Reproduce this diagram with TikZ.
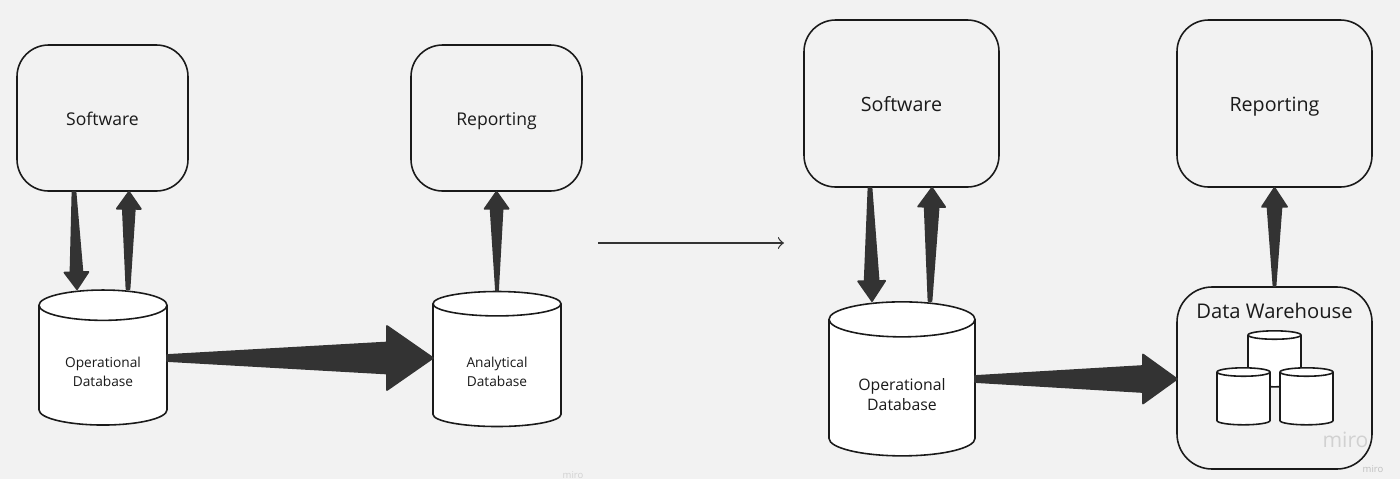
\documentclass[tikz,border=0pt]{standalone}
\usepackage{fontspec}
\setmainfont{Open Sans}
\usetikzlibrary{calc,shapes.geometric}
\definecolor{pagegray}{HTML}{F2F2F2}
\definecolor{arrowgray}{HTML}{333333}
\definecolor{inkblack}{HTML}{1A1A1A}
\tikzset{
    boxnode/.style={draw=inkblack, line width=0.45pt, rounded corners=9pt, text=inkblack, text height=1.35ex, text depth=0.5ex},
    dbnode/.style={cylinder, shape border rotate=90, draw=inkblack, line width=0.45pt, fill=white, cylinder uses custom fill, cylinder body fill=white, cylinder end fill=white, text=inkblack, inner sep=0pt, align=center, aspect=0.4},
    smalldb/.style={dbnode, inner xsep=3pt, inner ysep=6pt, minimum width=0.53cm},
    watermark/.style={text=#1, inner sep=0pt}
}
% tapered arrow: from, to, tail half width, shaft half width, head half width, head length
\newcommand{\taperarrow}[6]{
    \fill[arrowgray, draw=arrowgray, line width=0.5pt, line join=round]
        ($(#1)!#3!90:(#2)$) -- ($($(#2)!#6!(#1)$)!#4!90:(#2)$) -- ($($(#2)!#6!(#1)$)!#5!90:(#2)$)
        -- (#2)
        -- ($($(#2)!#6!(#1)$)!#5!-90:(#2)$) -- ($($(#2)!#6!(#1)$)!#4!-90:(#2)$) -- ($(#1)!#3!-90:(#2)$) -- cycle;
}
\begin{document}
\begin{tikzpicture}[y=-1cm]
    % Page background
    \fill[pagegray] (0,0) rectangle (14,4.79);

    % Left hand side
    \node[boxnode, minimum width=1.71cm, minimum height=1.46cm, font=\fontsize{5}{6}\selectfont] (softwareA) at (1.025,1.18) {Software};
    \node[boxnode, minimum width=1.71cm, minimum height=1.46cm, font=\fontsize{5}{6}\selectfont] (reportingA) at (4.965,1.18) {Reporting};
    \node[dbnode, minimum width=1.28cm, minimum height=1.35cm, font=\fontsize{3.9}{5.4}\selectfont] (operationalA) at (1.03,3.655) {\rule{0pt}{6.8pt}Operational\\Database};
    \node[dbnode, minimum width=1.28cm, minimum height=1.35cm, font=\fontsize{3.9}{5.4}\selectfont] (analyticalA) at (4.97,3.655) {\rule{0pt}{6.8pt}Analytical\\Database};

    % Right hand side
    \node[boxnode, minimum width=1.95cm, minimum height=1.67cm, font=\fontsize{5.6}{7}\selectfont] (softwareB) at (9.015,1.035) {Software};
    \node[boxnode, minimum width=1.95cm, minimum height=1.67cm, font=\fontsize{5.6}{7}\selectfont] (reportingB) at (12.745,1.035) {Reporting};
    \node[dbnode, minimum width=1.46cm, minimum height=1.54cm, font=\fontsize{4.5}{5.8}\selectfont] (operationalB) at (9.02,3.88) {\rule{0pt}{7.2pt}Operational\\Database};
    \node[boxnode, minimum width=1.95cm, minimum height=1.82cm, rounded corners=10pt] (warehouse) at (12.745,3.78) {};
    \node[text=inkblack, inner sep=0pt, font=\fontsize{5.75}{7}\selectfont] (warehouselabel) at (12.745,3.105) {Data Warehouse};

    % Small databases in the warehouse
    \node[smalldb, minimum height=0.56cm] (dbback) at (12.745,3.63) {};
    \node[smalldb, minimum height=0.57cm] (dbleft) at (12.435,4.005) {};
    \node[smalldb, minimum height=0.57cm] (dbright) at (13.065,4.005) {};

    % Ends of the connectors
    \coordinate (a1) at ($(softwareA.south)+(-0.285,0)$);
    \coordinate (a2) at ($(operationalA.north)+(-0.26,0)$);
    \coordinate (a3) at ($(operationalA.north)+(0.25,0)$);
    \coordinate (a4) at ($(softwareA.south)+(0.265,0)$);
    \coordinate (b1) at ($(softwareB.south)+(-0.315,0)$);
    \coordinate (b2) at ($(operationalB.north)+(-0.30,0)$);
    \coordinate (b3) at ($(operationalB.north)+(0.28,0)$);
    \coordinate (b4) at ($(softwareB.south)+(0.305,0)$);
    \coordinate (c1) at (1.67,3.58);
    \coordinate (c2) at (4.33,3.58);
    \coordinate (d1) at (9.75,3.79);
    \coordinate (d2) at (11.77,3.79);
    \coordinate (e1) at (5.98,2.43);
    \coordinate (e2) at (7.84,2.43);

    % Connectors
    \taperarrow{a1}{a2}{0.015cm}{0.06cm}{0.12cm}{0.17cm}
    \taperarrow{a3}{a4}{0.015cm}{0.06cm}{0.12cm}{0.17cm}
    \taperarrow{analyticalA.north}{reportingA.south}{0.01cm}{0.06cm}{0.12cm}{0.17cm}
    \taperarrow{c1}{c2}{0.03cm}{0.155cm}{0.32cm}{0.46cm}
    \taperarrow{b1}{b2}{0.015cm}{0.07cm}{0.135cm}{0.2cm}
    \taperarrow{b3}{b4}{0.015cm}{0.07cm}{0.135cm}{0.19cm}
    \taperarrow{warehouse.north}{reportingB.south}{0.01cm}{0.07cm}{0.125cm}{0.19cm}
    \taperarrow{d1}{d2}{0.03cm}{0.13cm}{0.245cm}{0.34cm}
    \draw[->, arrowgray, line width=0.35pt] (e1) -- (e2);

    % Watermarks
    \node[watermark=black!18, font=\fontsize{6}{7}\selectfont] (miroA) at (13.455,4.40) {miro};
    \node[watermark=black!25, font=\fontsize{2.7}{3}\selectfont] (miroB) at (13.73,4.69) {miro};
    \node[watermark=black!18, font=\fontsize{2.7}{3}\selectfont] (miroC) at (5.73,4.75) {miro};

    \useasboundingbox (0,0) rectangle (14,4.79);
\end{tikzpicture}
\end{document}
